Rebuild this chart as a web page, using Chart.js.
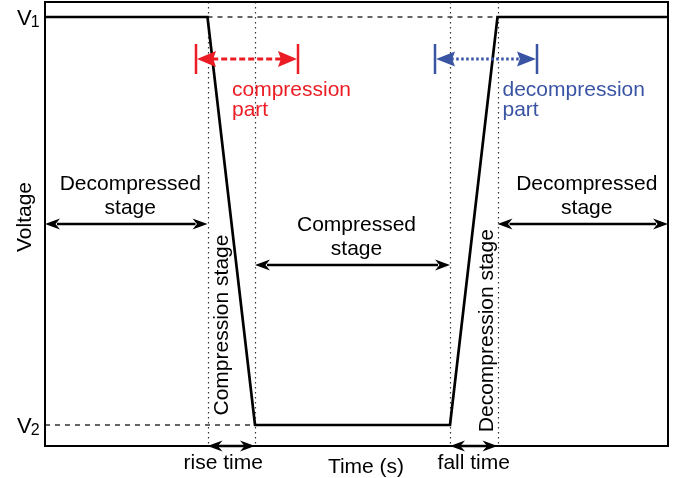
<!DOCTYPE html>
<html>
<head>
<meta charset="utf-8">
<script src="https://cdn.jsdelivr.net/npm/chart.js@4"></script>
<style>
  html, body { margin: 0; padding: 0; background: #fff; }
  canvas { display: block; }
</style>
</head>
<body>
<canvas id="waveChart" width="682" height="478"></canvas>
<script>
// --- Waveform data (time in arbitrary units, voltage levels) ---
const timePts = [0, 3.25, 4.2, 8.1, 9.05, 12.46];
const voltPts = [9, 9, 1, 1, 9, 9];

// voltage level tick labels (name + subscript)
const levelValues = [9, 1];
const levelNames = ['V', 'V'];
const levelSubs = ['1', '2'];

// stage labels over the flat parts
const stageNames = [['Decompressed', 'stage'], ['Compressed', 'stage'], ['Decompressed', 'stage']];
// labels along the ramps
const rampNames = ['Compression stage', 'Decompression stage'];
const rampTimeNames = ['rise time', 'fall time'];
// coloured "part" markers
const partNames = [['compression', 'part'], ['decompression', 'part']];
const partSpans = [[3.04, 5.04], [7.82, 9.82]];

const xTitle = 'Time (s)';
const yTitle = 'Voltage';

const FONT = '"Liberation Sans", Arial, Helvetica, sans-serif';
const RED = '#ec1c24';
const BLUE = '#3a54a4';

function head(c, x, y, dir, len, half, notch) {
    c.beginPath();
    c.moveTo(x, y);
    c.lineTo(x - dir * len, y - half);
    c.lineTo(x - dir * len * notch, y);
    c.lineTo(x - dir * len, y + half);
    c.closePath();
    c.fill();
}

function doubleArrow(c, x1, x2, y, o) {
    c.save();
    c.strokeStyle = o.color;
    c.fillStyle = o.color;
    c.lineWidth = o.width;
    c.setLineDash(o.dash || []);
    c.beginPath();
    c.moveTo(x1 + o.len * 0.8, y);
    c.lineTo(x2 - o.len * 0.8, y);
    c.stroke();
    c.setLineDash([]);
    head(c, x1, y, -1, o.len, o.half, o.notch);
    head(c, x2, y, 1, o.len, o.half, o.notch);
    if (o.bars) {
        c.lineWidth = 2.5;
        c.beginPath();
        c.moveTo(x1 - 1, y - 15); c.lineTo(x1 - 1, y + 15);
        c.moveTo(x2 + 1, y - 15); c.lineTo(x2 + 1, y + 15);
        c.stroke();
    }
    c.restore();
}

function text(c, str, x, y, align, color, size) {
    c.save();
    c.font = (size || 21) + 'px ' + FONT;
    c.fillStyle = color || '#000';
    c.textAlign = align || 'center';
    c.textBaseline = 'alphabetic';
    c.fillText(str, x, y);
    c.restore();
}

function vtext(c, str, x, y) {
    c.save();
    c.translate(x, y);
    c.rotate(-Math.PI / 2);
    c.font = '21px ' + FONT;
    c.fillStyle = '#000';
    c.textAlign = 'center';
    c.textBaseline = 'alphabetic';
    c.fillText(str, 0, 0);
    c.restore();
}

// draws guides, arrows, labels and the frame around the plot
const diagramPlugin = {
    id: 'diagram',
    beforeDatasetsDraw(chart) {
        const c = chart.ctx;
        const { left, right, top, bottom } = chart.chartArea;
        const xs = chart.scales.x, ys = chart.scales.y;
        const px = t => xs.getPixelForValue(t);
        const py = v => ys.getPixelForValue(v);

        c.save();
        // dotted vertical guides at the ramp corners
        c.strokeStyle = '#333';
        c.lineWidth = 1.2;
        c.setLineDash([1.5, 3.5]);
        for (let i = 1; i <= 4; i++) {
            const x = Math.round(px(timePts[i])) + 0.5;
            c.beginPath();
            c.moveTo(x, top);
            c.lineTo(x, bottom);
            c.stroke();
        }
        // dashed level guides
        c.setLineDash([5, 5]);
        c.lineWidth = 1.3;
        c.beginPath();
        c.moveTo(px(timePts[1]), py(levelValues[0]));
        c.lineTo(px(timePts[4]), py(levelValues[0]));
        c.moveTo(left, py(levelValues[1]));
        c.lineTo(px(timePts[2]), py(levelValues[1]));
        c.stroke();
        c.restore();
    },
    afterDatasetsDraw(chart) {
        const c = chart.ctx;
        const { left, right, top, bottom } = chart.chartArea;
        const xs = chart.scales.x, ys = chart.scales.y;
        const px = t => xs.getPixelForValue(t);
        const py = v => ys.getPixelForValue(v);
        const black = { color: '#000', width: 2.5, len: 15, half: 5.5, notch: 0.7 };

        // stage arrows and labels
        const spans = [[timePts[0], timePts[1]], [timePts[2], timePts[3]], [timePts[4], timePts[5]]];
        const arrowV = [4.95, 4.14, 4.95];
        spans.forEach((s, i) => {
            const x1 = px(s[0]), x2 = px(s[1]), y = Math.round(py(arrowV[i]));
            doubleArrow(c, x1, x2, y, black);
            const cx = (x1 + x2) / 2 + 4;
            text(c, stageNames[i][0], cx, y - 34);
            text(c, stageNames[i][1], cx, y - 10);
        });

        // rise / fall time arrows along the bottom edge
        [[1, 2], [3, 4]].forEach((p, i) => {
            const x1 = px(timePts[p[0]]), x2 = px(timePts[p[1]]);
            doubleArrow(c, x1, x2, bottom, black);
            text(c, rampTimeNames[i], (x1 + x2) / 2 - 8 + i * 8, bottom + 23);
        });

        // ramp labels, written vertically
        vtext(c, rampNames[0], px(3.66), py(2.96));
        vtext(c, rampNames[1], px(8.96), py(2.85));

        // coloured part markers
        const partStyles = [
            { color: RED, width: 3, len: 19, half: 8, notch: 0.85, dash: [6, 3], bars: true },
            { color: BLUE, width: 3, len: 19, half: 7.5, notch: 0.85, dash: [2.5, 2.5], bars: true }
        ];
        const partTextX = [3.74, 9.15];
        const partColors = [RED, BLUE];
        partSpans.forEach((s, i) => {
            const y = Math.round(py(8.18));
            doubleArrow(c, px(s[0]), px(s[1]), y, partStyles[i]);
            text(c, partNames[i][0], px(partTextX[i]), y + 37, 'left', partColors[i]);
            text(c, partNames[i][1], px(partTextX[i]), y + 57, 'left', partColors[i]);
        });

        // frame
        c.save();
        c.strokeStyle = '#000';
        c.lineWidth = 2;
        c.strokeRect(left, top, right - left, bottom - top);
        c.restore();

        // level labels V1 / V2
        c.save();
        c.fillStyle = '#000';
        c.textBaseline = 'alphabetic';
        levelValues.forEach((v, i) => {
            const y = py(v) + 8;
            c.font = '22px ' + FONT;
            c.textAlign = 'left';
            c.fillText(levelNames[i], 17, y);
            const w = c.measureText(levelNames[i]).width;
            c.font = '16px ' + FONT;
            c.fillText(levelSubs[i], 17 + w - 1, y + 2);
        });
        c.restore();

        // axis titles
        text(c, xTitle, 366, bottom + 27);
        vtext(c, yTitle, 31, 217);
    }
};

const ctx = document.getElementById('waveChart').getContext('2d');
new Chart(ctx, {
    type: 'line',
    data: {
        datasets: [{
            data: timePts.map((t, i) => ({ x: t, y: voltPts[i] })),
            borderColor: '#000',
            borderWidth: 2.7,
            borderJoinStyle: 'miter',
            pointRadius: 0,
            fill: false,
            tension: 0
        }]
    },
    options: {
        responsive: false,
        animation: false,
        layout: { padding: { left: 45, top: 2, right: 14, bottom: 32 } },
        plugins: { legend: { display: false }, tooltip: { enabled: false } },
        scales: {
            x: { type: 'linear', min: 0, max: 12.46, display: false },
            y: { min: 0.588, max: 9.294, display: false }
        }
    },
    plugins: [diagramPlugin]
});
</script>
</body>
</html>
